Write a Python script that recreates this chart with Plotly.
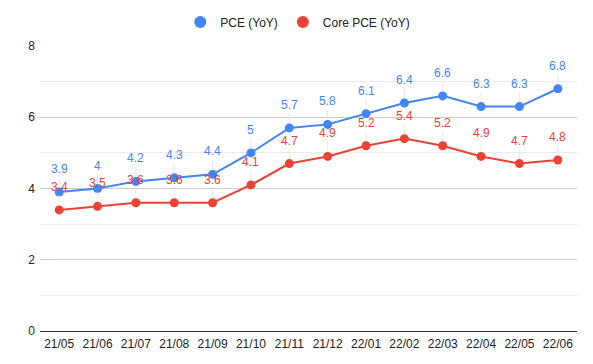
import plotly.graph_objects as go

months = ["21/05", "21/06", "21/07", "21/08", "21/09", "21/10", "21/11",
          "21/12", "22/01", "22/02", "22/03", "22/04", "22/05", "22/06"]
pce = [3.9, 4.0, 4.2, 4.3, 4.4, 5.0, 5.7, 5.8, 6.1, 6.4, 6.6, 6.3, 6.3, 6.8]
core_pce = [3.4, 3.5, 3.6, 3.6, 3.6, 4.1, 4.7, 4.9, 5.2, 5.4, 5.2, 4.9, 4.7, 4.8]
y_ticks = [0, 2, 4, 6, 8]

BLUE = "#4285F4"
RED = "#EA4335"
FONT = "Arial"
TXT = "#222222"

fig = go.Figure()
series = [("PCE (YoY)", pce, BLUE), ("Core PCE (YoY)", core_pce, RED)]
for name, vals, col in series:
    fig.add_trace(go.Scatter(x=months, y=vals, mode="lines+markers", name=name,
                             line=dict(color=col, width=2),
                             marker=dict(color=col, size=9),
                             showlegend=False, hoverinfo="skip"))
for name, vals, col in series:
    fig.add_trace(go.Scatter(x=[None], y=[None], mode="markers", name=name,
                             marker=dict(color=col, size=11)))

annotations = []
for name, vals, col in series:
    for m, v in zip(months, vals):
        annotations.append(dict(x=m, y=v, xref="x", yref="y",
                                text=f"{v:g}", showarrow=True, arrowhead=0,
                                arrowwidth=1, arrowcolor="#e6e6e6",
                                ax=0, ay=-23, standoff=5,
                                font=dict(family=FONT, size=12, color=col)))

# page body has an 8px default margin; figure is sized to compensate
W, H = 585, 356
fig.update_layout(
    width=W, height=H,
    margin=dict(l=32, r=16, t=38, b=33, autoexpand=False),
    paper_bgcolor="white", plot_bgcolor="white",
    font=dict(family=FONT, size=12, color=TXT),
    legend=dict(orientation="h", x=0.48, xanchor="center", y=1 - 14 / H,
                yref="container", yanchor="middle",
                font=dict(family=FONT, size=12, color=TXT),
                itemsizing="constant"),
    annotations=annotations,
)
fig.update_xaxes(type="category", range=[-0.5, len(months) - 0.5],
                 showgrid=False, showline=False, ticks="", ticklabelstandoff=4,
                 tickfont=dict(family=FONT, size=12, color=TXT))
fig.update_yaxes(range=[0, 8], tickvals=y_ticks, showgrid=True, gridcolor="#cccccc",
                 gridwidth=1, zeroline=True, zerolinecolor="#333333", zerolinewidth=1,
                 showline=False, ticks="", ticklabelstandoff=4,
                 minor=dict(dtick=1, showgrid=True, gridcolor="#ebebeb", gridwidth=1),
                 tickfont=dict(family=FONT, size=12, color=TXT))

fig.write_html("out.html")
